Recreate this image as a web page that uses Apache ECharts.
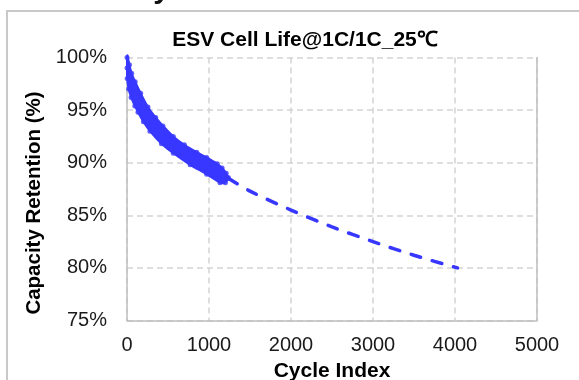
<!DOCTYPE html>
<html>
<head>
<meta charset="utf-8">
<script src="https://cdn.jsdelivr.net/npm/echarts@6/dist/echarts.min.js"></script>
<style>
html,body{margin:0;padding:0;background:#fff;}
#chart{width:579px;height:380px;}
</style>
</head>
<body>
<div id="chart"></div>
<script>
// Measured data cloud (1C/1C, 25°C): upper-right and lower-left edges of the dense point band
const bandUpperCycles = [5, 30, 57, 100, 167, 256, 350, 439, 565, 700, 850, 972, 1100, 1160, 1210, 1235];
const bandUpperRet    = [100.2, 99.3, 98.5, 97.7, 96.6, 95.3, 94.3, 93.5, 92.5, 91.7, 91.0, 90.5, 89.9, 89.5, 89.0, 88.6];
const bandLowerCycles = [0, 0, 2, 20, 50, 95, 134, 200, 280, 420, 565, 770, 972, 1134, 1200, 1235];
const bandLowerRet    = [100.0, 99.0, 98.0, 97.0, 96.2, 95.4, 94.8, 93.9, 93.0, 91.8, 90.9, 89.8, 88.9, 88.1, 88.1, 88.5];

// Projection (dashed)
const projCycles = [1240, 1500, 2000, 2500, 3000, 3500, 4030];
const projRet    = [88.5, 87.3, 85.5, 83.9, 82.5, 81.2, 80.0];

const xTicks = [0, 1000, 2000, 3000, 4000, 5000];
const yTicks = [75, 80, 85, 90, 95, 100];

const BLUE = '#3737ff';
const FONT = '"Liberation Sans", Arial, sans-serif';

const chart = echarts.init(document.getElementById('chart'), null, {renderer: 'canvas'});

const edgePts = bandUpperCycles.map((c, i) => [c, bandUpperRet[i]])
  .concat(bandLowerCycles.map((c, i) => [c, bandLowerRet[i]]));

chart.setOption({
  animation: false,
  backgroundColor: '#fff',
  title: {
    text: 'ESV Cell Life@1C/1C_25℃',
    left: 300, top: 25, textAlign: 'center',
    textStyle: {fontFamily: FONT, fontWeight: 'bold', fontSize: 21, color: '#000'}
  },
  graphic: [
    {type: 'rect', shape: {x: 7, y: 11, width: 600, height: 400},
     style: {fill: 'none', stroke: '#c8c8c8', lineWidth: 2}, silent: true, z: -10},
    {type: 'text', left: 60, top: -25,
     style: {text: '25℃ Cycle Life', fontFamily: FONT, fontWeight: 'bold', fontSize: 30, fill: '#111'}}
  ],
  grid: {left: 127, right: 42, top: 57.5, bottom: 59.5, containLabel: false, outerBoundsMode: 'none'},
  xAxis: {
    type: 'value', min: 0, max: 5000, interval: 1000,
    name: 'Cycle Index', nameLocation: 'middle', nameGap: 36,
    nameTextStyle: {fontFamily: FONT, fontWeight: 'bold', fontSize: 21, color: '#000'},
    axisLine: {show: true, lineStyle: {color: '#bfbfbf', width: 1.5}},
    axisTick: {show: false},
    axisLabel: {fontFamily: FONT, fontSize: 20, color: '#1a1a1a', margin: 15,
                formatter: function (v) { return String(v); }},
    splitLine: {show: true, lineStyle: {color: '#d4d4d4', width: 1.5, type: [6, 4]}}
  },
  yAxis: [{
    type: 'value', min: 75, max: 100, interval: 5,
    name: 'Capacity Retention (%)', nameLocation: 'middle', nameGap: 81, nameRotate: 90,
    nameTextStyle: {fontFamily: FONT, fontWeight: 'bold', fontSize: 20.5, color: '#000', padding: [0, 0, 0, -28]},
    axisLine: {show: true, lineStyle: {color: '#bfbfbf', width: 1.5}},
    axisTick: {show: false},
    axisLabel: {fontFamily: FONT, fontSize: 20, color: '#1a1a1a', margin: 20, formatter: '{value}%'},
    splitLine: {show: true, lineStyle: {color: '#d4d4d4', width: 1.5, type: [6, 4]}}
  }, {
    type: 'value', min: 75, max: 100, position: 'right',
    axisLine: {show: true, lineStyle: {color: '#bfbfbf', width: 1.5}},
    axisTick: {show: false}, axisLabel: {show: false}, splitLine: {show: false}
  }],
  series: [
    {
      type: 'custom',
      coordinateSystem: 'cartesian2d',
      data: [[0, 100]],
      renderItem: function (params, api) {
        const pts = [];
        for (let i = 0; i < bandUpperCycles.length; i++) pts.push(api.coord([bandUpperCycles[i], bandUpperRet[i]]));
        for (let i = bandLowerCycles.length - 1; i >= 0; i--) pts.push(api.coord([bandLowerCycles[i], bandLowerRet[i]]));
        return {type: 'polygon', shape: {points: pts, smooth: 0.3}, style: {fill: BLUE, stroke: BLUE, lineWidth: 2}};
      },
      z: 3
    },
    {
      type: 'scatter',
      data: edgePts,
      symbolSize: 5,
      itemStyle: {color: BLUE},
      z: 4
    },
    {
      type: 'line',
      data: projCycles.map((c, i) => [c, projRet[i]]),
      showSymbol: false,
      smooth: 0.3,
      lineStyle: {color: BLUE, width: 3.5, type: [10, 12], cap: 'round'},
      z: 4
    }
  ]
});
</script>
</body>
</html>
